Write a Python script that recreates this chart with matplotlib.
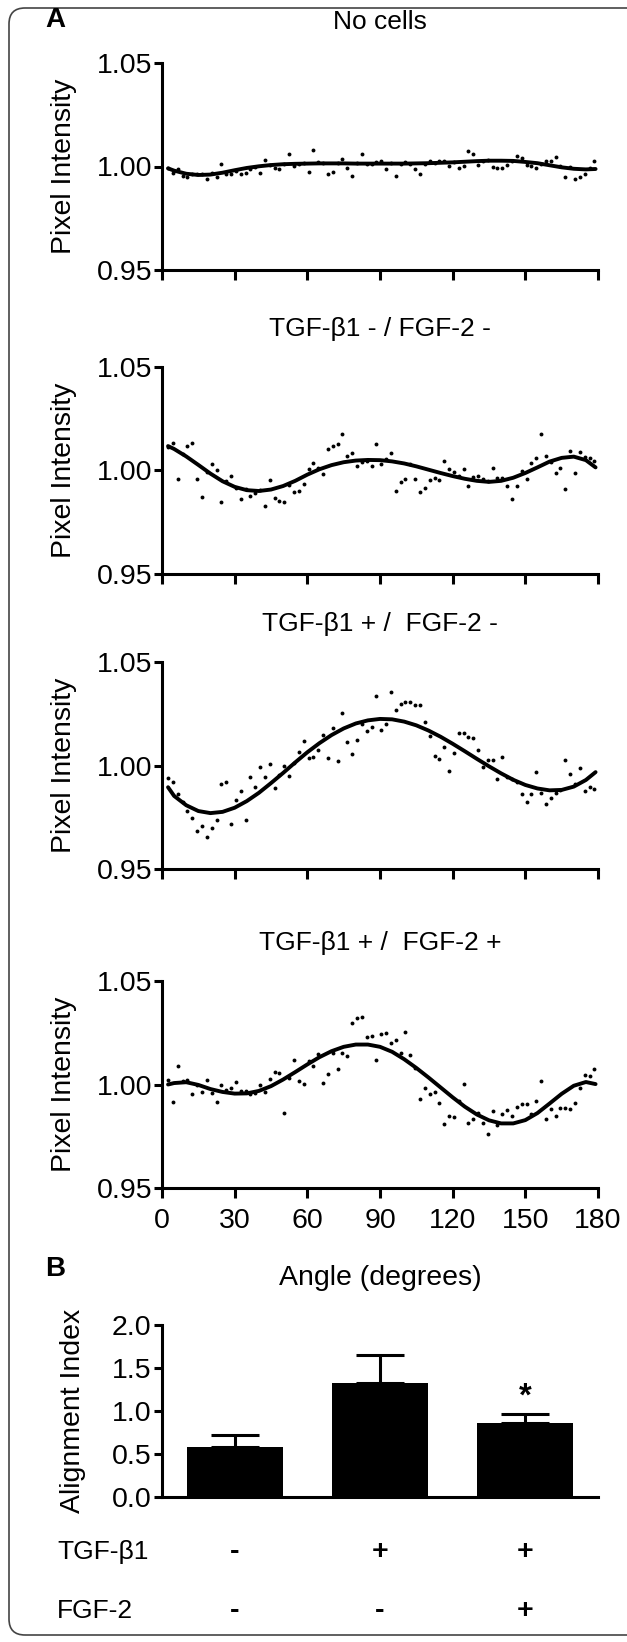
import numpy as np
import matplotlib
matplotlib.use("Agg")
import matplotlib.pyplot as plt
from matplotlib.patches import FancyBboxPatch
from matplotlib.transforms import IdentityTransform, blended_transform_factory

plt.rcParams['font.family'] = ['Liberation Sans', 'DejaVu Sans']

# ---------------- data ----------------
angles = np.arange(2.5, 180, 2)          # measured angle bins (deg)

no_cells = [0.9991, 0.9971, 0.9986, 0.9955, 0.9951, 0.9966, 0.9966, 0.9966, 0.9940, 0.9971,
            0.9951, 1.0012, 0.9963, 0.9963, 0.9980, 0.9966, 0.9971, 0.9990, 0.9998, 0.9971,
            1.0032, 1.0005, 0.9994, 0.9986, 1.0010, 1.0062, 1.0002, 1.0013, 1.0017, 0.9974,
            1.0079, 1.0022, 1.0017, 0.9963, 0.9974, 1.0015, 1.0037, 0.9994, 0.9955, 1.0017,
            1.0062, 1.0012, 1.0012, 1.0022, 1.0025, 0.9986, 1.0017, 0.9952, 1.0012, 1.0022,
            1.0012, 0.9986, 0.9963, 1.0012, 1.0025, 1.0016, 1.0025, 1.0025, 1.0002, 1.0020,
            0.9994, 1.0002, 1.0076, 1.0059, 1.0005, 1.0025, 1.0029, 0.9997, 0.9994, 0.9994,
            1.0009, 1.0025, 1.0049, 1.0043, 1.0009, 1.0002, 0.9994, 1.0010, 1.0025, 1.0025,
            1.0048, 1.0002, 0.9951, 0.9997, 0.9941, 0.9951, 0.9966, 0.9994, 1.0025]

tgf_neg_fgf_neg = [1.0113, 1.0134, 0.9957, 1.0082, 1.0120, 1.0134, 0.9961, 0.9872, 0.9992, 1.0029,
                   1.0002, 0.9849, 0.9949, 0.9972, 0.9915, 0.9864, 0.9912, 0.9877, 0.9889, 0.9905,
                   0.9827, 0.9952, 0.9869, 0.9853, 0.9847, 0.9930, 0.9895, 0.9901, 0.9934, 1.0008,
                   1.0034, 1.0011, 0.9981, 1.0105, 1.0116, 1.0128, 1.0174, 1.0069, 1.0086, 1.0023,
                   1.0039, 1.0045, 1.0023, 1.0127, 1.0029, 1.0057, 1.0083, 0.9902, 0.9946, 0.9957,
                   1.0031, 0.9961, 0.9898, 0.9915, 0.9954, 0.9966, 0.9952, 1.0046, 1.0008, 0.9995,
                   0.9972, 1.0005, 0.9923, 0.9969, 0.9974, 0.9961, 0.9949, 1.0014, 0.9966, 0.9966,
                   0.9926, 0.9863, 0.9927, 0.9998, 0.9958, 1.0035, 1.0062, 1.0177, 1.0069, 1.0040,
                   0.9989, 1.0012, 0.9912, 1.0096, 0.9988, 1.0088, 1.0066, 1.0060, 1.0048]

tgf_pos_fgf_neg = [0.9941, 0.9920, 0.9860, 0.9824, 0.9782, 0.9747, 0.9685, 0.9707, 0.9653, 0.9698,
                   0.9735, 0.9909, 0.9921, 0.9715, 0.9833, 0.9877, 0.9738, 0.9943, 0.9898, 0.9992,
                   0.9943, 1.0008, 0.9889, 0.9952, 0.9998, 0.9951, 1.0012, 1.0065, 1.0119, 1.0034,
                   1.0040, 1.0073, 1.0145, 1.0034, 1.0181, 1.0020, 1.0253, 1.0114, 1.0054, 1.0123,
                   1.0200, 1.0168, 1.0184, 1.0335, 1.0170, 1.0200, 1.0353, 1.0270, 1.0296, 1.0309,
                   1.0309, 1.0293, 1.0290, 1.0210, 1.0144, 1.0046, 1.0032, 1.0091, 0.9974, 1.0062,
                   1.0157, 1.0156, 1.0139, 1.0133, 1.0074, 0.9994, 1.0026, 1.0025, 0.9937, 1.0043,
                   0.9943, 0.9937, 0.9921, 0.9863, 0.9824, 0.9863, 0.9968, 0.9867, 0.9815, 0.9843,
                   0.9866, 0.9880, 1.0028, 0.9961, 0.9910, 0.9988, 0.9877, 0.9895, 0.9886]

tgf_pos_fgf_pos = [1.0020, 0.9915, 1.0090, 1.0015, 1.0020, 0.9954, 1.0000, 0.9963, 1.0020, 0.9957,
                   0.9915, 0.9998, 0.9975, 0.9985, 1.0011, 0.9969, 0.9971, 0.9954, 0.9957, 0.9998,
                   0.9966, 1.0025, 1.0062, 1.0054, 0.9861, 1.0030, 1.0116, 1.0017, 1.0003, 1.0113,
                   1.0090, 1.0147, 1.0006, 1.0049, 1.0151, 1.0074, 1.0151, 1.0136, 1.0298, 1.0321,
                   1.0326, 1.0228, 1.0233, 1.0117, 1.0245, 1.0250, 1.0202, 1.0216, 1.0151, 1.0256,
                   1.0144, 1.0080, 0.9931, 0.9981, 0.9954, 0.9965, 0.9910, 0.9807, 0.9850, 0.9843,
                   0.9920, 1.0002, 0.9815, 0.9833, 0.9861, 0.9815, 0.9759, 0.9872, 0.9804, 0.9858,
                   0.9877, 0.9847, 0.9892, 0.9907, 0.9907, 0.9858, 0.9920, 1.0015, 0.9835, 0.9881,
                   0.9846, 0.9886, 0.9886, 0.9883, 0.9910, 0.9981, 1.0046, 1.0040, 1.0073]

fit_angles = [2.5, 5, 10, 15, 20, 25, 30, 35, 40, 45, 50, 55, 60, 65, 70, 75, 80, 85, 90,
              95, 100, 105, 110, 115, 120, 125, 130, 135, 140, 145, 150, 155, 160, 165,
              170, 175, 179]

fit_no_cells = [0.9991, 0.9980, 0.9965, 0.9959, 0.9961, 0.9970, 0.9982, 0.9993, 1.0001, 1.0007,
                1.0011, 1.0013, 1.0014, 1.0015, 1.0015, 1.0015, 1.0014, 1.0014, 1.0014, 1.0014,
                1.0014, 1.0015, 1.0016, 1.0018, 1.0020, 1.0023, 1.0026, 1.0028, 1.0028, 1.0027,
                1.0022, 1.0016, 1.0006, 0.9996, 0.9989, 0.9986, 0.9988]
fit_tgf_neg_fgf_neg = [1.0118, 1.0104, 1.0068, 1.0027, 0.9985, 0.9948, 0.9921, 0.9905, 0.9901, 0.9908,
                       0.9925, 0.9950, 0.9980, 1.0006, 1.0026, 1.0040, 1.0048, 1.0051, 1.0050, 1.0044,
                       1.0034, 1.0020, 1.0004, 0.9988, 0.9973, 0.9960, 0.9950, 0.9945, 0.9950, 0.9965,
                       0.9988, 1.0015, 1.0043, 1.0061, 1.0067, 1.0050, 1.0015]
fit_tgf_pos_fgf_neg = [0.9895, 0.9853, 0.9808, 0.9780, 0.9770, 0.9776, 0.9796, 0.9828, 0.9868, 0.9915,
                       0.9964, 1.0015, 1.0064, 1.0108, 1.0147, 1.0179, 1.0203, 1.0218, 1.0225, 1.0223,
                       1.0212, 1.0194, 1.0169, 1.0139, 1.0105, 1.0069, 1.0032, 0.9996, 0.9962, 0.9931,
                       0.9906, 0.9889, 0.9880, 0.9882, 0.9898, 0.9930, 0.9968]
fit_tgf_pos_fgf_pos = [1.0000, 1.0007, 1.0011, 0.9998, 0.9978, 0.9964, 0.9956, 0.9957, 0.9969, 0.9992,
                       1.0024, 1.0060, 1.0097, 1.0132, 1.0161, 1.0182, 1.0193, 1.0193, 1.0182, 1.0158,
                       1.0122, 1.0080, 1.0034, 0.9986, 0.9938, 0.9893, 0.9855, 0.9827, 0.9812, 0.9812,
                       0.9828, 0.9862, 0.9908, 0.9955, 0.9994, 1.0012, 1.0002]

panel_titles = ["No cells", "TGF-β1 - / FGF-2 -", "TGF-β1 + /  FGF-2 -", "TGF-β1 + /  FGF-2 +"]
x_ticks = [0, 30, 60, 90, 120, 150, 180]
y_ticks = [0.95, 1.00, 1.05]

bar_mean = [0.58, 1.32, 0.86]
bar_sem = [0.14, 0.33, 0.10]
tgf_signs = ["-", "+", "+"]
fgf_signs = ["-", "-", "+"]
bar_ticks = [0.0, 0.5, 1.0, 1.5, 2.0]

# ---------------- layout ----------------
W, H = 627, 1642
fig = plt.figure(figsize=(W / 100, H / 100), dpi=100)
FS = 20.5
TFS = 19
LW = 2.2
LEFT, RIGHT = 162, 598

def rect(top, bottom, left=LEFT, right=RIGHT):
    return [left / W, 1 - bottom / H, (right - left) / W, (bottom - top) / H]

panel_px = [(63, 270), (367, 574), (662, 869), (981, 1188)]
series = [no_cells, tgf_neg_fgf_neg, tgf_pos_fgf_neg, tgf_pos_fgf_pos]
fits = [fit_no_cells, fit_tgf_neg_fgf_neg, fit_tgf_pos_fgf_neg, fit_tgf_pos_fgf_pos]
title_y = [22, 329, 624, 943]
ylab_x = (64 - LEFT) / (RIGHT - LEFT)

for i, ((top, bot), vals, fit, title) in enumerate(zip(panel_px, series, fits, panel_titles)):
    ax = fig.add_axes(rect(top, bot))
    ax.plot(angles, vals, 'o', ms=2.8, mew=0, color='black', clip_on=False)
    ax.plot(fit_angles, fit, '-', lw=2.8, color='black', solid_joinstyle='round',
            solid_capstyle='round')
    ax.set_xlim(0, 180)
    ax.set_ylim(0.95, 1.05)
    ax.set_xticks(x_ticks)
    ax.set_yticks(y_ticks)
    ax.set_yticklabels([f"{v:.2f}" for v in y_ticks])
    for s in ['top', 'right']:
        ax.spines[s].set_visible(False)
    for s in ['left', 'bottom']:
        ax.spines[s].set_linewidth(LW)
    ax.tick_params(axis='y', direction='out', length=5.8, width=LW, labelsize=FS, pad=1)
    ax.tick_params(axis='x', direction='out', length=7.2, width=LW, labelsize=FS, pad=7)
    if i < 3:
        ax.set_xticklabels([])
    else:
        ax.text(0.5, (bot - 1278) / (bot - top), "Angle (degrees)", transform=ax.transAxes,
                ha='center', va='center', fontsize=FS)
    ax.text(ylab_x, 0.5, "Pixel Intensity", transform=ax.transAxes, rotation=90,
            ha='center', va='center', fontsize=FS)
    ty = (bot - title_y[i]) / (bot - top)
    ax.text(0.5, ty, title, transform=ax.transAxes, ha='center', va='center',
            fontsize=TFS)

# ---------------- bar chart ----------------
b_top, b_bot = 1325, 1497
axb = fig.add_axes(rect(b_top, b_bot))
xpos = np.arange(len(bar_mean))
axb.bar(xpos, bar_mean, width=0.66, color='black', zorder=2)
axb.errorbar(xpos, bar_mean, yerr=[np.zeros(len(bar_sem)), bar_sem], fmt='none',
             ecolor='black', elinewidth=LW, capsize=17, capthick=LW, zorder=1)
axb.set_xlim(-0.5, 2.5)
axb.set_ylim(0, 2.0)
axb.set_yticks(bar_ticks)
axb.set_yticklabels([f"{v:.1f}" for v in bar_ticks])
axb.set_xticks([])
for s in ['top', 'right']:
    axb.spines[s].set_visible(False)
for s in ['left', 'bottom']:
    axb.spines[s].set_linewidth(LW)
axb.tick_params(axis='y', direction='out', length=5.8, width=LW, labelsize=FS, pad=2)
axb.text((73 - LEFT) / (RIGHT - LEFT), 0.5, "Alignment Index", transform=axb.transAxes,
         rotation=90, ha='center', va='center', fontsize=FS)
axb.text(2, bar_mean[2] + bar_sem[2] + 0.10, "*", ha='center', va='baseline',
         fontsize=FS + 3, fontweight='bold')

tr = blended_transform_factory(axb.transData, fig.transFigure)
for x, s in zip(xpos, tgf_signs):
    fig.text(x, 1 - 1552 / H, s, transform=tr, ha='center', va='center',
             fontsize=FS, fontweight='bold')
for x, s in zip(xpos, fgf_signs):
    fig.text(x, 1 - 1611 / H, s, transform=tr, ha='center', va='center',
             fontsize=FS, fontweight='bold')
fig.text(57 / W, 1 - 1552 / H, "TGF-β1", ha='left', va='center', fontsize=19)
fig.text(57 / W, 1 - 1611 / H, "FGF-2", ha='left', va='center', fontsize=19)

# panel letters
fig.text(55 / W, 1 - 20 / H, "A", ha='center', va='center', fontsize=20, fontweight='bold')
fig.text(55 / W, 1 - 1269 / H, "B", ha='center', va='center', fontsize=20, fontweight='bold')

# rounded border
border = FancyBboxPatch((9, 7), W + 20, H - 15, boxstyle='round,pad=0,rounding_size=16',
                        transform=IdentityTransform(), facecolor='none',
                        edgecolor='#444444', linewidth=1.2)
fig.add_artist(border)

fig.savefig("out.png", dpi=100)
